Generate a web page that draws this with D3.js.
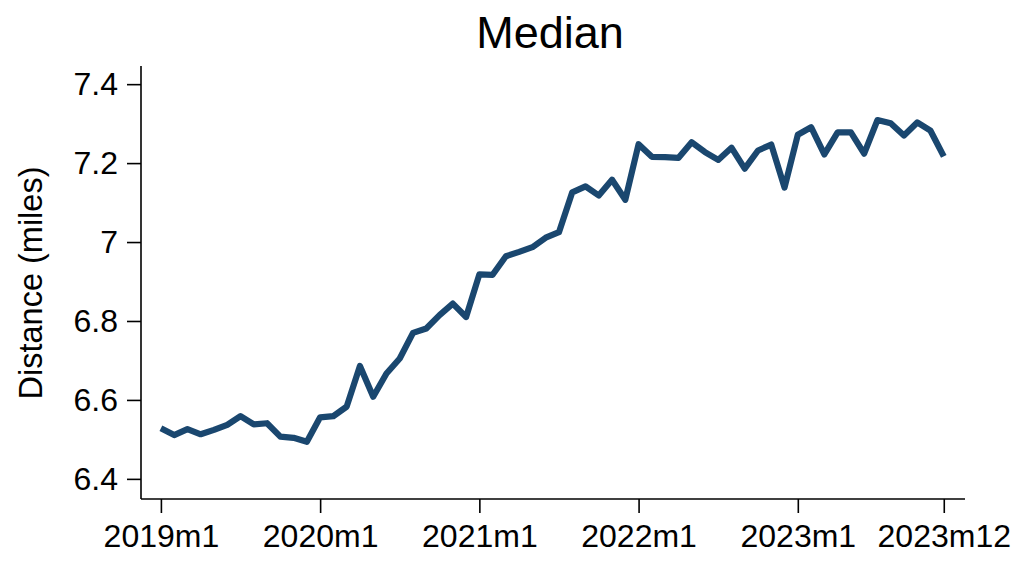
<!DOCTYPE html>
<html>
<head>
<meta charset="utf-8">
<script src="https://cdn.jsdelivr.net/npm/d3@7"></script>
<style>
  html, body { margin: 0; padding: 0; background: #fff; }
  svg { display: block; font-family: "Liberation Sans", Arial, Helvetica, sans-serif; }
</style>
</head>
<body>
<svg id="chart" width="1024" height="563"></svg>
<script>
// ---- data ----
const title = "Median";
const yLabel = "Distance (miles)";
const years = [2019, 2020, 2021, 2022, 2023];
const months = [];
years.forEach(y => { for (let m = 1; m <= 12; m++) months.push(y + "m" + m); });
const medianValues = [
  6.528, 6.511, 6.526, 6.513, 6.524, 6.537, 6.559, 6.538, 6.541, 6.507, 6.504, 6.494,
  6.556, 6.559, 6.583, 6.686, 6.608, 6.667, 6.705, 6.770, 6.781, 6.815, 6.844, 6.810,
  6.918, 6.917, 6.964, 6.975, 6.987, 7.011, 7.025, 7.126, 7.141, 7.118, 7.158, 7.107,
  7.248, 7.216, 7.215, 7.213, 7.253, 7.228, 7.208, 7.239, 7.186, 7.232, 7.247, 7.138,
  7.272, 7.291, 7.222, 7.278, 7.278, 7.224, 7.309, 7.301, 7.270, 7.303, 7.282, 7.217
];
const xTickLabels = ["2019m1", "2020m1", "2021m1", "2022m1", "2023m1", "2023m12"];
const yTickValues = [6.4, 6.6, 6.8, 7.0, 7.2, 7.4];

// ---- layout ----
const svg = d3.select("#chart");
const color = "#1a476f";

const x = d3.scaleLinear().domain([-1.5, 60.6]).range([141, 965]);
const y = d3.scaleLinear().domain([6.349, 7.446]).range([499, 66]);

const data = medianValues.map((v, i) => ({ i, label: months[i], v }));

// title
svg.append("text")
  .attr("x", 550).attr("y", 48)
  .attr("text-anchor", "middle")
  .attr("font-size", 45)
  .attr("fill", "#000")
  .text(title);

// y axis label
svg.append("text")
  .attr("transform", "translate(42,283) rotate(-90)")
  .attr("text-anchor", "middle")
  .attr("font-size", 32.5)
  .attr("fill", "#000")
  .text(yLabel);

// y axis
const yAxis = d3.axisLeft(y)
  .tickValues(yTickValues)
  .tickSize(14)
  .tickPadding(9)
  .tickFormat(d => d3.format("~g")(d));
const gy = svg.append("g").attr("transform", "translate(141,0)").call(yAxis);
gy.select(".domain").attr("d", `M0,${y.range()[1]}V${y.range()[0]}`);
gy.selectAll("line, path").attr("stroke", "#000").attr("stroke-width", 1.6);
gy.selectAll("text").attr("font-size", 32).attr("fill", "#000")
  .attr("font-family", "'Liberation Sans', Arial, sans-serif");

// x axis
const xTickIdx = xTickLabels.map(l => months.indexOf(l));
const xAxis = d3.axisBottom(x)
  .tickValues(xTickIdx)
  .tickSize(14)
  .tickPadding(11)
  .tickFormat(d => months[d]);
const gx = svg.append("g").attr("transform", "translate(0,499)").call(xAxis);
gx.select(".domain").attr("d", `M${x.range()[0]},0H${x.range()[1]}`);
gx.selectAll("line, path").attr("stroke", "#000").attr("stroke-width", 1.6);
gx.selectAll("text").attr("font-size", 32).attr("fill", "#000")
  .attr("font-family", "'Liberation Sans', Arial, sans-serif");

// line
const line = d3.line().x(d => x(d.i)).y(d => y(d.v));
svg.append("path")
  .datum(data)
  .attr("fill", "none")
  .attr("stroke", color)
  .attr("stroke-width", 6.2)
  .attr("stroke-linejoin", "round")
  .attr("stroke-linecap", "butt")
  .attr("d", line);
</script>
</body>
</html>
